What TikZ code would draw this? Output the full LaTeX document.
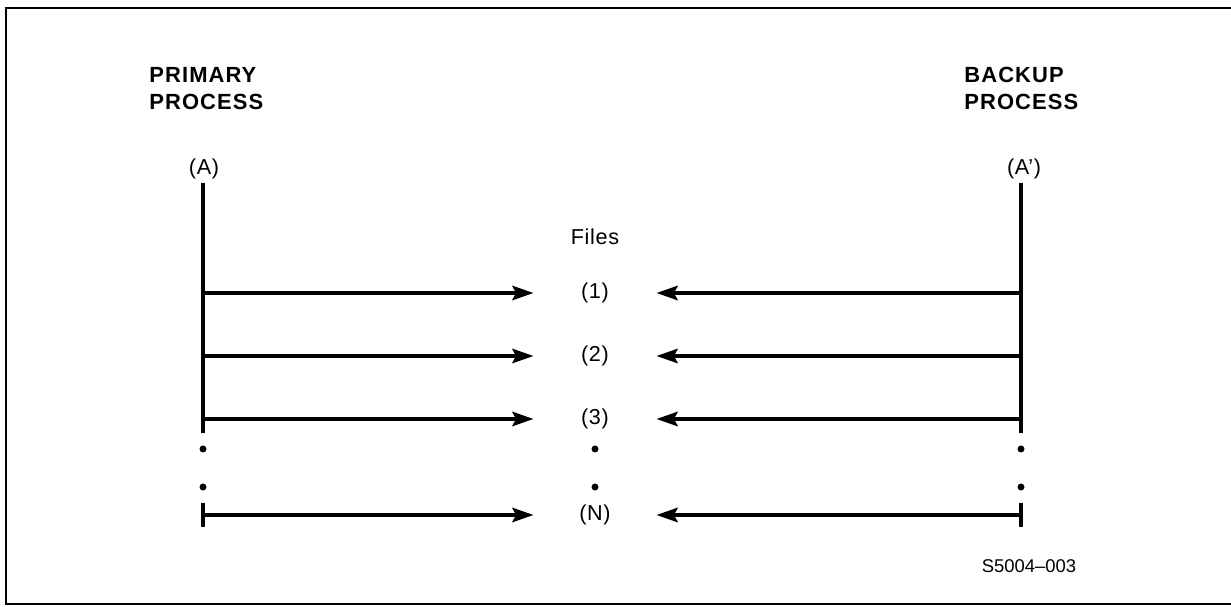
\documentclass[tikz,border=0pt]{standalone}
\usepackage{fontspec}
\setmainfont{Liberation Sans}
\usetikzlibrary{arrows.meta}

\tikzset{
  proc/.style={line width=2.5pt},
  flow/.style={line width=2.5pt, -{Stealth[length=12pt,width=8pt,inset=2pt]}},
  head/.style={anchor=north west, inner sep=0pt, align=left,
    font=\fontsize{12.5}{15.4}\selectfont\bfseries\addfontfeature{LetterSpace=5}},
  lbl/.style={inner sep=0pt, font=\fontsize{12.3}{14}\selectfont\addfontfeature{LetterSpace=3}},
  file/.style={lbl, minimum width=2.44cm},
}

\begin{document}
\begin{tikzpicture}[x=0.02cm, y=-0.02cm]
\useasboundingbox (0,0) rectangle (1231,607);
% frame, open on the right
\draw[line width=1.5pt] (1231,8) -- (6,8) -- (6,604) -- (1231,604);

\node[head] (ph) at (149,67) {PRIMARY\\PROCESS};
\node[head] (bh) at (964,67) {BACKUP\\PROCESS};
\node[lbl] (A) at (204,169) {(A)};
\node[lbl] (B) at (1024,169) {(A’)};
\node[lbl] (files) at (595,237) {Files};

% process lines
\coordinate (ptop) at (203,183);
\coordinate (pbot) at (203,433);
\coordinate (btop) at (1021,183);
\coordinate (bbot) at (1021,433);
\draw[proc] (ptop) -- (pbot);
\draw[proc] (btop) -- (bbot);

% one row per file
\foreach \i/\y in {1/293,2/356,3/419,N/515}{
  \coordinate (p\i) at (203,\y);
  \coordinate (b\i) at (1021,\y);
  \node[file] (f\i) at (595,\y) {(\i)};
  \draw[flow] (p\i) -- (f\i);
  \draw[flow] (b\i) -- (f\i);
}

% end ticks of the last row
\draw[proc] (203,503) -- (203,527);
\draw[proc] (1021,503) -- (1021,527);

% elided rows
\foreach \x in {203,595,1021}
  \foreach \y in {449,487}
    \fill (\x,\y) circle (3.5);

\node[lbl, font=\fontsize{10.5}{12}\selectfont] (fig) at (1029,566) {S5004--003};
\end{tikzpicture}
\end{document}
